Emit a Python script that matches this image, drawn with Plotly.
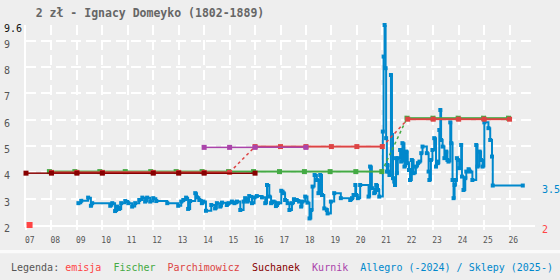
import plotly.graph_objects as go

# ---------------- data ----------------
TITLE = "2 zł - Ignacy Domeyko (1802-1889)"
year_ticks = list(range(2007, 2027))
year_labels = [f"{y % 100:02d}" for y in year_ticks]
y_ticks = [2, 3, 4, 5, 6, 7, 8, 9]
y_top = 9.6

emisja_x = [2007.14]
emisja_y = [2.0]

fischer_x = [2007.92, 2008.92, 2009.9, 2010.9, 2011.9, 2012.9, 2013.92, 2014.96,
             2015.94, 2016.96, 2017.94, 2018.95, 2019.96, 2020.98,
             2021.97, 2022.99, 2023.98, 2024.98, 2025.96]
fischer_y = [4.03] * 14 + [6.06] * 5

parch_x = [2008, 2009, 2010, 2012, 2013, 2014, 2015,
           2016, 2017, 2018, 2019, 2020, 2021,
           2022, 2023, 2024, 2025, 2026]
parch_y = [4.0] * 7 + [4.98] * 6 + [6.02] * 5

such_x = [2007, 2008, 2009, 2010, 2012, 2013, 2014, 2016]
such_y = [3.97] * 8

kurnik_x = [2014, 2015, 2016, 2018]
kurnik_y = [4.95] * 4

allegro_x = [
    2009.06, 2009.17, 2009.44, 2009.55, 2009.60, 2010.31, 2010.39, 2010.50, 2010.58, 2010.66,
    2010.74, 2010.90, 2011.02, 2011.17, 2011.29, 2011.45, 2011.57, 2011.68, 2011.76, 2011.88,
    2012.00, 2012.12, 2012.55, 2012.98, 2013.10, 2013.18, 2013.29, 2013.37, 2013.45, 2013.65,
    2013.72, 2013.81, 2013.91, 2013.97, 2014.07, 2014.28, 2014.43, 2014.50, 2014.63, 2014.70,
    2014.89, 2014.96, 2015.09, 2015.19, 2015.29, 2015.42, 2015.55, 2015.61, 2015.70, 2015.77,
    2015.88, 2015.98, 2016.07, 2016.27, 2016.40, 2016.47, 2016.56, 2016.63, 2016.73, 2016.82,
    2016.90, 2017.03, 2017.12, 2017.18, 2017.28, 2017.35, 2017.45, 2017.53, 2017.64, 2017.73,
    2017.81, 2017.86, 2017.97, 2018.06, 2018.14, 2018.21, 2018.26, 2018.34, 2018.43, 2018.49,
    2018.56, 2018.63, 2018.72, 2018.82, 2018.85, 2018.98, 2019.11, 2019.37, 2019.74, 2019.81,
    2019.87, 2019.94, 2019.97, 2020.04, 2020.13, 2020.46, 2020.52, 2020.59, 2020.68, 2020.76,
    2020.83, 2020.88, 2021.02, 2021.05, 2021.09, 2021.13, 2021.15, 2021.18, 2021.20, 2021.24,
    2021.28, 2021.34, 2021.38, 2021.42, 2021.47, 2021.50, 2021.54, 2021.57, 2021.61, 2021.70,
    2021.74, 2021.79, 2021.87, 2021.94, 2022.00, 2022.05, 2022.09, 2022.16, 2022.23, 2022.32,
    2022.40, 2022.46, 2022.53, 2022.58, 2022.75, 2022.82, 2022.85, 2022.91, 2022.97, 2023.04,
    2023.11, 2023.15, 2023.18, 2023.24, 2023.28, 2023.31, 2023.37, 2023.44, 2023.51, 2023.56,
    2023.60, 2023.67, 2023.71, 2023.76, 2023.80, 2023.84, 2023.89, 2023.93, 2023.97, 2024.02,
    2024.10, 2024.13, 2024.19, 2024.26, 2024.30, 2024.39, 2024.45, 2024.54, 2024.69, 2024.74,
    2024.82, 2024.88, 2024.94, 2025.01, 2025.17, 2025.24, 2025.31, 2025.34, 2026.52]
allegro_y = [
    2.83, 2.92, 3.04, 2.73, 2.83, 2.73, 2.83, 2.53, 2.70, 2.61,
    2.83, 2.91, 2.83, 2.70, 2.83, 2.95, 3.04, 2.89, 3.04, 2.89,
    3.02, 2.91, 2.83, 2.73, 2.89, 2.95, 3.04, 2.61, 2.91, 3.21,
    3.05, 2.95, 2.83, 2.89, 2.54, 2.76, 2.63, 2.83, 2.70, 2.85,
    2.76, 2.83, 2.89, 2.83, 2.89, 2.57, 2.89, 3.02, 2.89, 3.10,
    2.83, 3.05, 3.10, 3.05, 2.83, 3.52, 3.08, 2.83, 2.89, 2.72,
    2.83, 3.30, 3.21, 2.95, 2.83, 2.57, 2.83, 2.98, 2.95, 2.89,
    2.70, 2.89, 3.08, 2.85, 2.25, 2.57, 3.46, 3.90, 3.71, 3.21,
    3.90, 3.14, 2.63, 2.57, 2.44, 2.89, 3.21, 3.02, 2.95, 3.02,
    3.14, 3.52, 3.14, 3.02, 3.52, 3.08, 4.22, 3.40, 3.21, 3.52,
    3.33, 3.08, 5.55, 8.40, 9.60, 7.96, 5.30, 4.03, 4.28, 4.03,
    3.90, 7.70, 5.42, 3.78, 3.65, 3.52, 4.54, 3.97, 4.54, 4.85,
    4.41, 5.11, 4.22, 4.79, 4.35, 4.09, 3.71, 4.47, 3.97, 4.22,
    4.35, 4.41, 4.73, 4.98, 4.73, 4.03, 3.71, 4.47, 4.85, 5.30,
    4.22, 4.41, 4.35, 5.61, 6.37, 5.23, 4.98, 4.54, 4.79, 4.47,
    4.41, 5.90, 5.11, 3.71, 3.02, 3.52, 3.71, 4.54, 4.47, 4.16,
    5.04, 3.84, 3.33, 3.78, 4.03, 4.12, 4.03, 3.71, 5.04, 4.22,
    4.79, 4.47, 4.22, 5.90, 5.68, 5.23, 4.60, 3.50, 3.50]

allegro_last = 3.5
emisja_last = 2

# ---------------- styles ----------------
BG = "#eeeeee"
C_EMISJA = "#ff4444"
C_FISCHER = "#44aa44"
C_PARCH = "#dd4444"
C_SUCH = "#880000"
C_KURNIK = "#aa44aa"
C_ALLEGRO = "#0088cc"
MONO = "DejaVu Sans Mono"

fig = go.Figure()

fig.add_trace(go.Scatter(
    x=allegro_x, y=allegro_y, mode="lines+markers",
    line=dict(shape="hv", color=C_ALLEGRO, width=2),
    marker=dict(symbol="square", size=4, color=C_ALLEGRO),
    cliponaxis=False, hoverinfo="skip"))


def add_series(xs, ys, color, width, msize):
    sx, sy, dx, dy = [], [], [], []
    for i in range(len(xs) - 1):
        if ys[i] == ys[i + 1]:
            sx += [xs[i], xs[i + 1], None]
            sy += [ys[i], ys[i + 1], None]
        else:
            dx += [xs[i], xs[i + 1], None]
            dy += [ys[i], ys[i + 1], None]
    if sx:
        fig.add_trace(go.Scatter(x=sx, y=sy, mode="lines",
                                 line=dict(color=color, width=width),
                                 hoverinfo="skip"))
    if dx:
        fig.add_trace(go.Scatter(x=dx, y=dy, mode="lines",
                                 line=dict(color=color, width=1.5, dash="dot"),
                                 hoverinfo="skip"))
    fig.add_trace(go.Scatter(x=xs, y=ys, mode="markers",
                             marker=dict(symbol="square", size=msize, color=color),
                             cliponaxis=False, hoverinfo="skip"))


add_series(fischer_x, fischer_y, C_FISCHER, 2, 5)
add_series(parch_x, parch_y, C_PARCH, 2, 5)
add_series(kurnik_x, kurnik_y, C_KURNIK, 1.5, 5)
add_series(such_x, such_y, C_SUCH, 1.5, 5)

fig.add_trace(go.Scatter(x=emisja_x, y=emisja_y, mode="markers",
                         marker=dict(symbol="square", size=6, color=C_EMISJA),
                         cliponaxis=False, hoverinfo="skip"))

annotations = []
# y labels (left aligned)
for v in y_ticks:
    annotations.append(dict(x=0, xref="paper", y=v, yref="y", text=str(v),
                            xanchor="left", yanchor="middle", xshift=-24, yshift=-3.5,
                            showarrow=False, font=dict(family=MONO, size=10, color="#555")))
annotations.append(dict(x=0, xref="paper", y=y_top, yref="y", text=str(y_top),
                        xanchor="left", yanchor="middle", xshift=-24, yshift=-3.5,
                        showarrow=False, font=dict(family=MONO, size=10, color="#111")))
# right value labels
annotations.append(dict(x=1, xref="paper", y=allegro_last, yref="y", text=str(allegro_last),
                        xanchor="left", yanchor="middle", xshift=5, yshift=-3.5,
                        showarrow=False, font=dict(family=MONO, size=10, color=C_ALLEGRO)))
annotations.append(dict(x=1, xref="paper", y=emisja_last, yref="y", text=str(emisja_last),
                        xanchor="left", yanchor="middle", xshift=5, yshift=-4,
                        showarrow=False, font=dict(family=MONO, size=10, color=C_EMISJA)))
# legend line
sp = "\u00a0"
legend_txt = (f"<span style='color:#555'>Legenda:</span>{sp}"
              f"<span style='color:{C_EMISJA}'>emisja</span>{sp*2}"
              f"<span style='color:{C_FISCHER}'>Fischer</span>{sp*2}"
              f"<span style='color:{C_PARCH}'>Parchimowicz</span>{sp*2}"
              f"<span style='color:{C_SUCH}'>Suchanek</span>{sp*2}"
              f"<span style='color:{C_KURNIK}'>Kurnik</span>{sp*2}"
              f"<span style='color:{C_ALLEGRO}'>Allegro{sp}(-2024){sp}/{sp}Sklepy{sp}(2025-)</span>")
annotations.append(dict(x=0, xref="paper", y=0, yref="paper", text=legend_txt,
                        xanchor="left", yanchor="middle", xshift=-17, yshift=-42,
                        showarrow=False, font=dict(family=MONO, size=10, color="#555")))

fig.update_layout(
    width=560, height=280,
    paper_bgcolor=BG, plot_bgcolor=BG,
    margin=dict(l=26, r=25, t=25, b=55, autoexpand=False),
    showlegend=False,
    title=dict(text=TITLE, x=150 / 560, xref="container", xanchor="center",
               y=1 - 12.5 / 280, yref="container", yanchor="middle",
               font=dict(family=MONO, size=11.5, color="#666", weight="bold")),
    annotations=annotations,
    shapes=[dict(type="rect", xref="paper", yref="paper",
                 x0=-0.06, x1=1.06, y0=-0.1415, y1=-0.125,
                 fillcolor="#fbfbfb", line=dict(width=0), layer="below")],
    xaxis=dict(range=[2007, 2027], tickmode="array", tickvals=year_ticks, ticktext=year_labels,
               showgrid=True, gridcolor="white", gridwidth=2, griddash="10px,5px",
               zeroline=False, showline=True, linecolor="white", linewidth=2,
               ticks="outside", ticklen=3, tickcolor="white", tickwidth=2,
               ticklabelposition="outside right", ticklabelshift=-3,
               layer="below traces",
               tickfont=dict(family=MONO, size=8, color="#555"), ticklabelstandoff=6),
    yaxis=dict(range=[2, 9.6], tickmode="array", tickvals=y_ticks, showticklabels=False,
               showgrid=True, gridcolor="white", gridwidth=2, griddash="10px,5px",
               zeroline=False, showline=True, linecolor="white", linewidth=2, ticks="",
               layer="below traces"),
)

fig.write_html("out.html", config={"displayModeBar": False})
